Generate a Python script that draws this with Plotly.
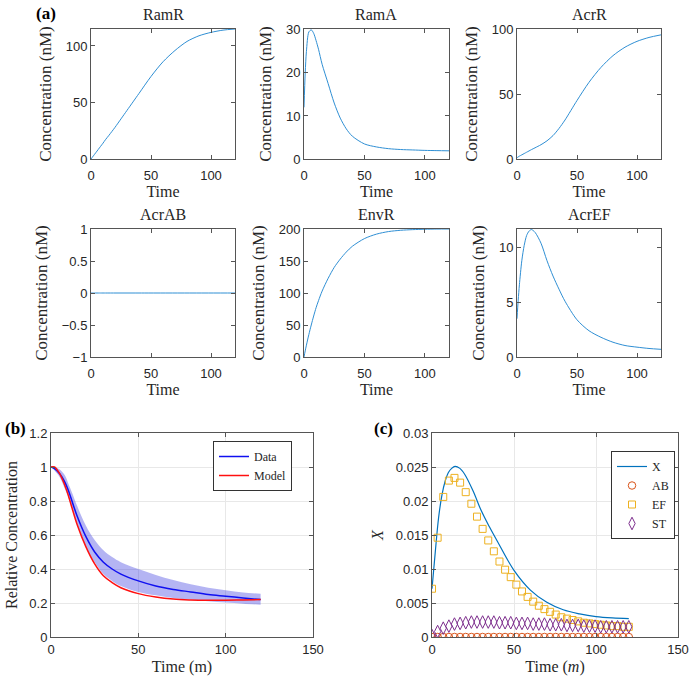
import plotly.graph_objects as go

# ---------------- data: panel (a) ----------------
t_a = [0, 1, 2, 4, 6, 8, 10, 12, 15, 20, 25, 30, 35, 40, 50, 60, 70, 80, 90, 100, 110, 120]
ramR = [0, 1.4, 2.8, 5.6, 8.4, 11.2, 14, 17, 21, 28, 35.5, 43, 50.5, 58, 73, 86, 96, 104, 109, 112, 114, 115]
ramA = [12, 20, 25, 29.5, 30, 29.2, 27.5, 25.5, 22, 17.5, 13, 9.5, 7, 5.3, 3.5, 2.8, 2.4, 2.2, 2.1, 2.0, 1.95, 1.9]
acrR = [1, 1.6, 2.2, 3.2, 4.2, 5.2, 6.2, 7.2, 8.6, 11, 14, 18, 23.5, 30, 45, 59, 70.5, 79.5, 86, 90.5, 93.5, 95.5]
acrAB = [0, 0, 0, 0, 0, 0, 0, 0, 0, 0, 0, 0, 0, 0, 0, 0, 0, 0, 0, 0, 0, 0]
envR = [0, 9.5, 18.5, 35, 50, 64, 77, 88, 103, 123, 140, 153, 164, 173, 185, 192, 196, 198, 199, 199.6, 199.9, 200]
acrEF = [3.5, 5.2, 6.6, 8.8, 10.2, 11.1, 11.5, 11.65, 11.4, 10.4, 8.8, 7.4, 6.2, 5.1, 3.4, 2.4, 1.8, 1.35, 1.05, 0.9, 0.78, 0.7]

panel_titles = ["RamR", "RamA", "AcrR", "AcrAB", "EnvR", "AcrEF"]
panel_series = [ramR, ramA, acrR, acrAB, envR, acrEF]
panel_yranges = [[0, 115], [0, 30.2], [0, 100], [-1, 1], [0, 200], [0, 11.7]]
panel_yticks = [[0, 50, 100], [0, 10, 20, 30], [0, 50, 100], [-1, -0.5, 0, 0.5, 1],
                [0, 50, 100, 150, 200], [0, 5, 10]]

# ---------------- data: panel (b) ----------------
t_b = [0, 2, 5, 8, 10, 12, 15, 20, 25, 30, 35, 40, 50, 60, 70, 80, 90, 100, 110, 120]
data_mean = [1.0, 0.99, 0.96, 0.91, 0.86, 0.80, 0.71, 0.59, 0.50, 0.44, 0.40, 0.37, 0.33, 0.30, 0.28, 0.265, 0.25, 0.24, 0.23, 0.22]
data_upper = [1.0, 1.0, 0.985, 0.95, 0.90, 0.85, 0.77, 0.655, 0.57, 0.51, 0.47, 0.44, 0.40, 0.365, 0.335, 0.31, 0.29, 0.275, 0.262, 0.255]
data_lower = [1.0, 0.98, 0.94, 0.87, 0.82, 0.76, 0.66, 0.53, 0.44, 0.37, 0.33, 0.30, 0.265, 0.245, 0.23, 0.22, 0.21, 0.203, 0.196, 0.19]
model = [1.0, 1.0, 0.96, 0.89, 0.83, 0.76, 0.66, 0.53, 0.43, 0.36, 0.32, 0.29, 0.255, 0.235, 0.223, 0.218, 0.216, 0.216, 0.218, 0.22]

# ---------------- data: panel (c) ----------------
t_x = [0, 2, 4, 6, 8, 10, 12, 14, 17, 20, 25, 30, 35, 40, 50, 60, 70, 80, 90, 100, 110, 120]
x_line = [0.0071, 0.0125, 0.0175, 0.0208, 0.0229, 0.0242, 0.0248, 0.0251, 0.0248, 0.0239, 0.0215, 0.0186, 0.0162, 0.0140,
          0.0098, 0.0069, 0.0051, 0.0040, 0.0034, 0.0030, 0.0028, 0.0027]
t_m = [0, 3.43, 6.86, 10.29, 13.71, 17.14, 20.57, 24, 27.43, 30.86, 34.29, 37.71, 41.14, 44.57, 48, 51.43,
       54.86, 58.29, 61.71, 65.14, 68.57, 72, 75.43, 78.86, 82.29, 85.71, 89.14, 92.57, 96, 99.43, 102.86,
       106.29, 109.71, 113.14, 116.57, 120]
ab = [0] * 36
ef = [0.0071, 0.0146, 0.0206, 0.0230, 0.0234, 0.0227, 0.0213, 0.0196, 0.0177, 0.0159, 0.0142, 0.0126, 0.0111,
      0.0099, 0.0088, 0.0077, 0.0067, 0.0059, 0.0052, 0.0046, 0.0041, 0.0037, 0.0033, 0.0029, 0.0027, 0.0025,
      0.0023, 0.0021, 0.0020, 0.0019, 0.0018, 0.0017, 0.0016, 0.0016, 0.0015, 0.0015]
st = [0.0002, 0.0008, 0.0013, 0.0016, 0.0019, 0.0020, 0.0021, 0.0022, 0.0022, 0.0022, 0.0022, 0.0022, 0.0021,
      0.0021, 0.0021, 0.0020, 0.0020, 0.0020, 0.0019, 0.0019, 0.0019, 0.0018, 0.0018, 0.0018, 0.0017, 0.0017,
      0.0017, 0.0016, 0.0016, 0.0016, 0.0015, 0.0015, 0.0015, 0.0015, 0.0015, 0.0015]

# ---------------- layout helpers ----------------
W, H = 690, 676
SERIF = "Times New Roman, Liberation Serif, DejaVu Serif, serif"
SANS = "Arial, Liberation Sans, Helvetica, sans-serif"
AX = "#555555"
TXT = "#262626"


def xd(a, b):
    return [a / W, b / W]


def yd(top, bot):
    return [1 - bot / H, 1 - top / H]


boxes_a = [(91, 235, 29, 159), (304, 449, 29, 159), (517, 661, 29, 159),
           (91, 235, 229, 357), (304, 449, 229, 357), (517, 661, 229, 357)]

fig = go.Figure()
layout = dict(width=W, height=H, margin=dict(l=0, r=0, t=0, b=0),
              paper_bgcolor="white", plot_bgcolor="white", showlegend=True)

annotations = []


def axis_common(**kw):
    d = dict(showline=True, linecolor=AX, linewidth=1, mirror="ticks", ticks="inside",
             ticklen=4, tickcolor=AX, tickwidth=1, zeroline=False, showgrid=False,
             tickfont=dict(family=SANS, size=13, color=TXT), automargin=False)
    d.update(kw)
    return d


for i, (title, ys, yr, ytk, box) in enumerate(zip(panel_titles, panel_series, panel_yranges,
                                                  panel_yticks, boxes_a)):
    n = i + 1
    xa = "x" if n == 1 else f"x{n}"
    ya = "y" if n == 1 else f"y{n}"
    fig.add_trace(go.Scatter(x=t_a, y=ys, mode="lines", line=dict(color="#2f8fd4", width=1, shape="spline", smoothing=0.8),
                             xaxis=xa, yaxis=ya, showlegend=False, hoverinfo="skip"))
    l, r, t, b = box
    layout["xaxis" if n == 1 else f"xaxis{n}"] = axis_common(
        domain=xd(l, r), anchor=ya, range=[0, 120], tickvals=[0, 50, 100], ticklabelstandoff=4,
        title=dict(text="Time", font=dict(family=SERIF, size=16, color=TXT), standoff=3))
    layout["yaxis" if n == 1 else f"yaxis{n}"] = axis_common(
        domain=yd(t, b), anchor=xa, range=yr, tickvals=ytk,
        title=dict(text="Concentration (nM)", font=dict(family=SERIF, size=17, color=TXT), standoff=9))
    annotations.append(dict(text=title, x=(l + r) / 2 / W, y=1 - (t - 4) / H, xref="paper", yref="paper",
                            xanchor="center", yanchor="bottom", showarrow=False,
                            font=dict(family=SERIF, size=16, color=TXT)))

# panel (b)
fig.add_trace(go.Scatter(x=t_b, y=data_upper, mode="lines", line=dict(width=0, shape="spline"),
                         xaxis="x7", yaxis="y7", showlegend=False, hoverinfo="skip"))
fig.add_trace(go.Scatter(x=t_b, y=data_lower, mode="lines", line=dict(width=0, shape="spline"),
                         fill="tonexty", fillcolor="rgba(40,40,220,0.35)",
                         xaxis="x7", yaxis="y7", showlegend=False, hoverinfo="skip"))
fig.add_trace(go.Scatter(x=t_b, y=data_mean, mode="lines", name="Data",
                         line=dict(color="#1010f0", width=1.5, shape="spline"),
                         xaxis="x7", yaxis="y7", legend="legend"))
fig.add_trace(go.Scatter(x=t_b, y=model, mode="lines", name="Model",
                         line=dict(color="#ff1010", width=1.5, shape="spline"),
                         xaxis="x7", yaxis="y7", legend="legend"))

layout["xaxis7"] = axis_common(domain=xd(51, 313), anchor="y7", range=[0, 150], tickvals=[0, 50, 100, 150],
                               showgrid=True, gridcolor="#e8e8e8",
                               title=dict(text="Time (m)", font=dict(family=SERIF, size=16, color=TXT), standoff=5))
layout["yaxis7"] = axis_common(domain=yd(433, 637), anchor="x7", range=[0, 1.2],
                               tickvals=[0, 0.2, 0.4, 0.6, 0.8, 1, 1.2],
                               showgrid=True, gridcolor="#e8e8e8",
                               title=dict(text="Relative Concentration", font=dict(family=SERIF, size=16, color=TXT),
                                          standoff=7))

# panel (c)
fig.add_trace(go.Scatter(x=t_x, y=x_line, mode="lines", name="X",
                         line=dict(color="#0072BD", width=1.2, shape="spline"),
                         xaxis="x8", yaxis="y8", legend="legend2"))
fig.add_trace(go.Scatter(x=t_m, y=ab, mode="markers", name="AB",
                         marker=dict(symbol="circle-open", size=7.5, color="#D95319", line=dict(width=1)),
                         xaxis="x8", yaxis="y8", legend="legend2"))
fig.add_trace(go.Scatter(x=t_m, y=ef, mode="markers", name="EF",
                         marker=dict(symbol="square-open", size=7, color="#EDB120", line=dict(width=1)),
                         xaxis="x8", yaxis="y8", legend="legend2"))
fig.add_trace(go.Scatter(x=t_m, y=st, mode="markers", name="ST",
                         marker=dict(symbol="diamond-tall-open", size=9, color="#7E2F8E", line=dict(width=1)),
                         xaxis="x8", yaxis="y8", legend="legend2"))

layout["xaxis8"] = axis_common(domain=xd(432, 678), anchor="y8", range=[0, 150], tickvals=[0, 50, 100, 150],
                               showgrid=True, gridcolor="#e8e8e8",
                               title=dict(text="Time (<i>m</i>)", font=dict(family=SERIF, size=16, color=TXT),
                                          standoff=5))
layout["yaxis8"] = axis_common(domain=yd(433, 637), anchor="x8", range=[0, 0.03],
                               tickvals=[0, 0.005, 0.01, 0.015, 0.02, 0.025, 0.03],
                               ticktext=["0", "0.005", "0.01", "0.015", "0.02", "0.025", "0.03"],
                               showgrid=True, gridcolor="#e8e8e8",
                               title=dict(text="<i>X</i>", font=dict(family=SERIF, size=16, color=TXT), standoff=8))

layout["legend"] = dict(x=292 / W, y=1 - 441 / H, xanchor="right", yanchor="top",
                        bgcolor="white", bordercolor="#333333", borderwidth=1,
                        font=dict(family=SERIF, size=12, color=TXT), tracegroupgap=0,
                        traceorder="normal", itemwidth=30)
layout["legend2"] = dict(x=675 / W, y=1 - 451 / H, xanchor="right", yanchor="top",
                         bgcolor="white", bordercolor="#333333", borderwidth=1,
                         font=dict(family=SERIF, size=12, color=TXT), tracegroupgap=0,
                         traceorder="normal", itemwidth=30)

# panel labels
for lab, cx, cy in [("(a)", 46, 13), ("(b)", 15, 428), ("(c)", 383, 428)]:
    annotations.append(dict(text=f"<b>{lab}</b>", x=cx / W, y=1 - cy / H, xref="paper", yref="paper",
                            xanchor="center", yanchor="middle", showarrow=False,
                            font=dict(family=SERIF, size=17, color="black")))

layout["annotations"] = annotations
fig.update_layout(**layout)
fig.write_html("out.html", config={"displayModeBar": False},
               post_script="document.body.style.margin='0';document.body.style.padding='0';")
